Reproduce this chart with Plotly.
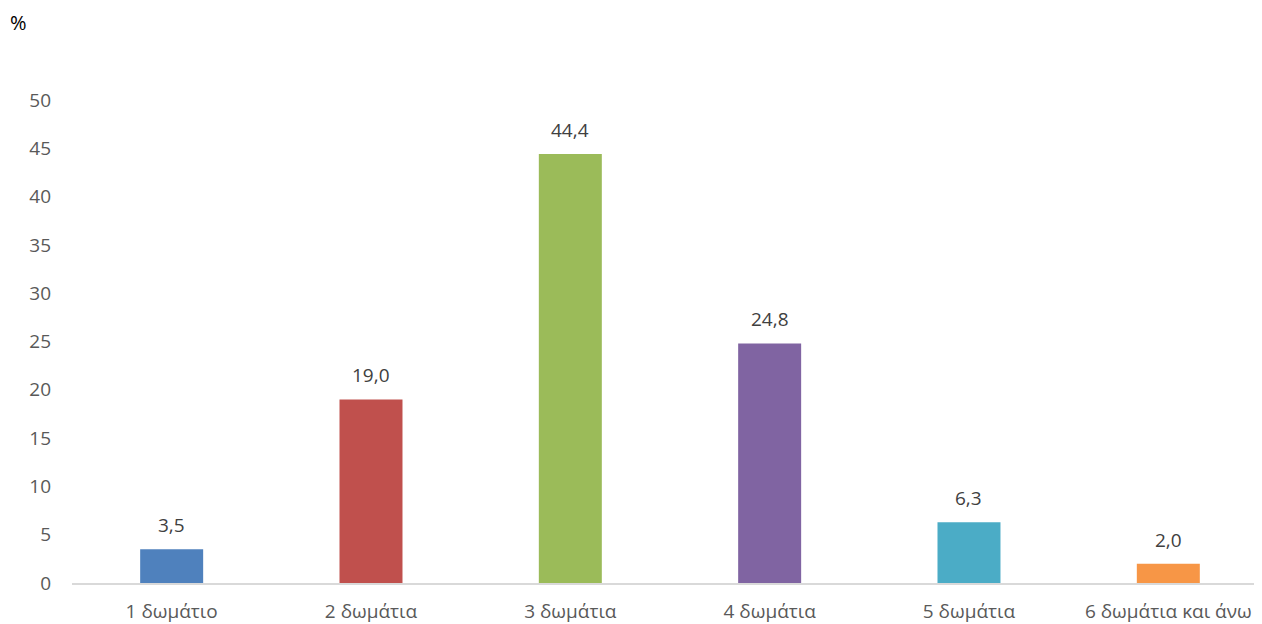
import plotly.graph_objects as go

categories = ["1 δωμάτιο", "2 δωμάτια", "3 δωμάτια", "4 δωμάτια", "5 δωμάτια", "6 δωμάτια και άνω"]
values = [3.5, 19.0, 44.4, 24.8, 6.3, 2.0]
colors = ["#4F81BD", "#C0504D", "#9BBB59", "#8064A2", "#4BACC6", "#F79646"]
y_ticks = [0, 5, 10, 15, 20, 25, 30, 35, 40, 45, 50]

labels = [f"{v:.1f}".replace(".", ",") for v in values]

W, H = 1254, 616
ML, MR, MT, MB = 64, 0, 92, 39

fig = go.Figure(go.Bar(
    x=categories, y=values, marker=dict(color=colors, line=dict(width=0)),
    width=0.316, hoverinfo="x+y",
))

annotations = [
    dict(x=c, y=v, text=t, xref="x", yref="y", showarrow=False,
         yanchor="bottom", yshift=9, font=dict(size=19, color="#404040"))
    for c, v, t in zip(categories, values, labels)
]
pw = W - ML - MR
ph = H - MT - MB
annotations.append(dict(text="%", x=(10 - ML) / pw, y=(H - MB - 14) / ph,
                        xref="paper", yref="paper", showarrow=False,
                        xanchor="center", yanchor="middle",
                        font=dict(size=20, color="#000000")))

fig.update_layout(
    width=W, height=H,
    margin=dict(l=ML, r=MR, t=MT, b=MB),
    paper_bgcolor="white", plot_bgcolor="white",
    font=dict(family="Open Sans, Noto Sans, sans-serif", size=19, color="#595959"),
    showlegend=False,
    xaxis=dict(range=[-0.5, 5.47], showline=True, linecolor="#D9D9D9", linewidth=1.5,
               ticks="", showgrid=False, ticklabelstandoff=10,
               tickfont=dict(size=19, color="#595959")),
    yaxis=dict(range=[0, 50], tickvals=y_ticks, showgrid=False, zeroline=False,
               showline=False, ticks="", ticklabelstandoff=20,
               tickfont=dict(size=19, color="#595959")),
    annotations=annotations,
)
fig.write_html("out.html")
